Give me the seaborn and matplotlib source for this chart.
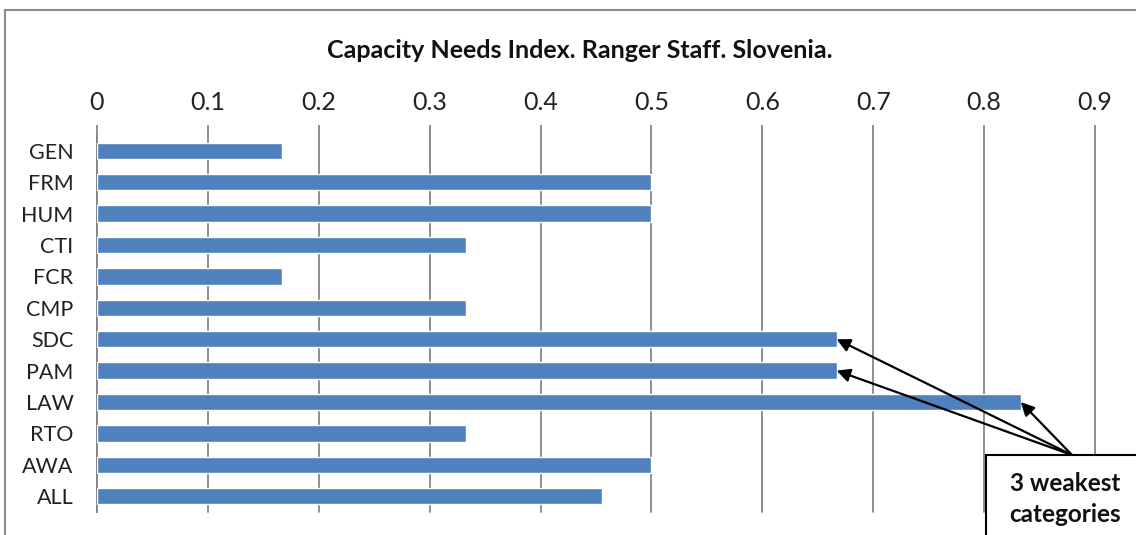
import matplotlib
matplotlib.use("Agg")
import matplotlib.pyplot as plt
import seaborn as sns
import numpy as np
import pandas as pd
from matplotlib.patches import Rectangle

categories = ["GEN", "FRM", "HUM", "CTI", "FCR", "CMP", "SDC", "PAM", "LAW", "RTO", "AWA", "ALL"]
values = [0.167, 0.5, 0.5, 0.333, 0.167, 0.333, 0.667, 0.667, 0.833, 0.333, 0.5, 0.455]
x_ticks = [0, 0.1, 0.2, 0.3, 0.4, 0.5, 0.6, 0.7, 0.8, 0.9]
x_tick_labels = ["0", "0.1", "0.2", "0.3", "0.4", "0.5", "0.6", "0.7", "0.8", "0.9"]
weakest = ["SDC", "PAM", "LAW"]
title = "Capacity Needs Index. Ranger Staff. Slovenia."
note = "3 weakest\ncategories"

sns.set_style("white")
plt.rcParams["font.family"] = ["Lato", "DejaVu Sans"]

df = pd.DataFrame({"cat": categories, "val": values})

fig = plt.figure(figsize=(11.36, 5.35), dpi=100)
ax = fig.add_axes([97 / 1136, 1 - 512 / 535, (1095 - 97) / 1136, (512 - 135) / 535])

sns.barplot(data=df, y="cat", x="val", orient="h", color="#4F81BD", saturation=1,
            width=0.52, ax=ax, zorder=3)

grid_c = "#868686"
ax.set_xlim(0, 0.9)
ax.set_ylim(len(categories) - 0.5, -0.5)
ax.set_xlabel("")
ax.set_ylabel("")
ax.xaxis.tick_top()
ax.set_xticks(x_ticks)
ax.set_xticklabels(x_tick_labels, fontsize=18, color="#222222")
ax.tick_params(axis="x", length=7, width=1.3, color=grid_c, pad=8)
ax.grid(axis="x", color=grid_c, linewidth=1.3, zorder=0)
ax.grid(axis="y", visible=False)
ax.set_yticks(range(len(categories)))
ax.set_yticklabels(categories, fontsize=15.5, color="#222222")
ax.set_yticks(np.arange(-0.5, len(categories), 1.0), minor=True)
ax.tick_params(axis="y", which="major", length=0, pad=17)
ax.tick_params(axis="y", which="minor", length=6, width=1.3, color=grid_c)
for s in ["top", "right", "bottom"]:
    ax.spines[s].set_visible(False)
ax.spines["left"].set_color(grid_c)
ax.spines["left"].set_linewidth(1.3)
for gl in ax.get_xgridlines():
    gl.set_clip_on(False)

fig.text(580 / 1136, 1 - 50 / 535, title, ha="center", va="center",
         fontsize=18, fontweight="bold", color="#111111")

# outer chart border
fig.patches.append(Rectangle((5 / 1136, -0.1), 1.2, 1 - 10 / 535 + 0.1,
                             transform=fig.transFigure, fill=False,
                             edgecolor="#8a8a8a", linewidth=1.5))

# annotation box
tail = (1072 / 1136, 1 - 455 / 535)
fig.patches.append(Rectangle((986 / 1136, -0.1), 0.5, 1 - 455 / 535 + 0.1,
                             transform=fig.transFigure, facecolor="white",
                             edgecolor="black", linewidth=1.5, zorder=5))
fig.text(1065 / 1136, 1 - 499 / 535, note, ha="center", va="center",
         fontsize=17.5, fontweight="bold", color="#111111", linespacing=1.4, zorder=6)
for c in weakest:
    i = categories.index(c)
    ax.annotate("", xy=(values[i], i), xycoords="data",
                xytext=tail, textcoords="figure fraction",
                arrowprops=dict(arrowstyle="-|>", color="black", lw=1.6,
                                mutation_scale=20, shrinkA=0, shrinkB=0),
                annotation_clip=False, zorder=4)

fig.savefig("out.png", dpi=100)
